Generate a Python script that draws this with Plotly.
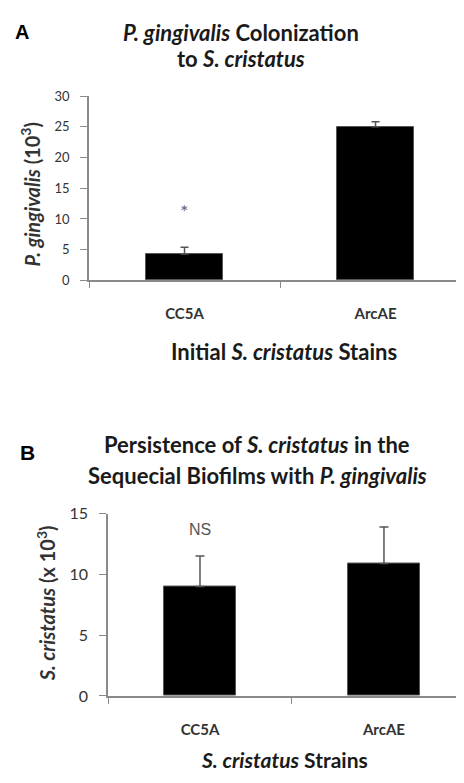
import plotly.graph_objects as go

# ---- data ----
strains = ["CC5A", "ArcAE"]
pg_colonization = [4.3, 25.0]        # P. gingivalis (10^3)
pg_colonization_err = [1.1, 0.8]
sc_persistence = [9.0, 10.9]         # S. cristatus (x 10^3)
sc_persistence_err = [2.5, 3.0]
a_yticks = [0, 5, 10, 15, 20, 25, 30]
b_yticks = [0, 5, 10, 15]

# page body has an 8px default margin: figure is sized so it ends at window edge
OFF = 8
W, H = 464 - OFF, 783 - OFF
FONT = "Lato, 'Open Sans', sans-serif"
AXIS_GRAY = "#8a8a8a"
TXT = "#333333"
DARK = "#1a1a1a"

def px(x):
    return (x - OFF) / W

def py(y):
    return 1 - (y - OFF) / H

fig = go.Figure()

fig.add_trace(go.Bar(
    x=strains, y=pg_colonization, width=0.4,
    marker=dict(color="black", line=dict(color="#555555", width=1)),
    error_y=dict(type="data", array=pg_colonization_err, arrayminus=[0, 0],
                 symmetric=False, color="#555555", thickness=1.5, width=4),
    xaxis="x", yaxis="y", showlegend=False,
))
fig.add_trace(go.Bar(
    x=strains, y=sc_persistence, width=0.39,
    marker=dict(color="black", line=dict(color="#555555", width=1)),
    error_y=dict(type="data", array=sc_persistence_err, arrayminus=[0, 0],
                 symmetric=False, color="#555555", thickness=1.5, width=4.5),
    xaxis="x2", yaxis="y2", showlegend=False,
))

common_x = dict(
    type="category", showline=True, linecolor=AXIS_GRAY, linewidth=1.5,
    ticks="outside", tickson="boundaries", ticklen=6, tickcolor=AXIS_GRAY,
    showgrid=False, zeroline=False, fixedrange=True,
    tickfont=dict(family=FONT, size=15, color=TXT, weight="bold"),
    ticklabelstandoff=19,
)
common_y = dict(
    showline=True, linecolor=AXIS_GRAY, linewidth=1.5,
    ticks="outside", ticklen=7, tickcolor=AXIS_GRAY,
    showgrid=False, zeroline=False, fixedrange=True,
    ticklabelstandoff=8,
)

fig.update_layout(
    width=W, height=H,
    margin=dict(l=0, r=0, t=0, b=0),
    paper_bgcolor="white", plot_bgcolor="white",
    bargap=0,
    xaxis=dict(common_x, domain=[px(89), 1], range=[-0.5, 1.463], anchor="y"),
    yaxis=dict(common_y, domain=[py(277), py(88)], range=[0, 30],
               tickvals=a_yticks, anchor="x",
               tickfont=dict(family=FONT, size=13, color=TXT)),
    xaxis2=dict(common_x, domain=[px(108), 1], range=[-0.5, 1.435], anchor="y2"),
    yaxis2=dict(common_y, domain=[py(703), py(516)], range=[0, 15],
                tickvals=b_yticks, anchor="x2",
                tickfont=dict(family=FONT, size=16, color=TXT)),
)

def note(text, x, y, size, color=DARK, family=FONT, angle=0):
    return dict(text=text, x=px(x), y=py(y), xref="paper", yref="paper",
                xanchor="center", yanchor="middle", showarrow=False,
                textangle=angle, font=dict(family=family, size=size, color=color))

ann = [
    # panel letters
    note("<b>A</b>", 22, 22, 20, "black", "Arial"),
    note("<b>B</b>", 27, 453, 21, "black", "Arial"),
    # titles
    note("<b><i>P. gingivalis</i> Colonization</b>", 241, 23, 22),
    note("<b>to <i>S. cristatus</i></b>", 241, 50, 22),
    note("<b>Persistence of <i>S. cristatus</i> in the</b>", 257, 445, 22),
    note("<b>Sequecial Biofilms with <i>P. gingivalis</i></b>", 257, 477, 22),
    # axis titles
    note("<b><i>P. gingivalis</i> (10<sup>3</sup>)</b>", 30, 189, 20, TXT, angle=-90),
    note("<b>Initial <i>S. cristatus</i> Stains</b>", 284, 350, 22),
    note("<b><i>S. cristatus</i> (x 10<sup>3</sup>)</b>", 46, 608, 20, TXT, angle=-90),
    note("<b><i>S. cristatus</i> Strains</b>", 284, 768, 21),
]
# significance marks
ann.append(dict(text="*", x="CC5A", y=11.3, xref="x", yref="y", showarrow=False,
                xanchor="center", yanchor="middle",
                font=dict(family=FONT, size=20, color="#666666")))
ann.append(dict(text="NS", x="CC5A", y=13.7, xref="x2", yref="y2", showarrow=False,
                xanchor="center", yanchor="middle",
                font=dict(family="Arial", size=16, color="#555555")))

fig.update_layout(annotations=ann)
fig.write_html("out.html")
